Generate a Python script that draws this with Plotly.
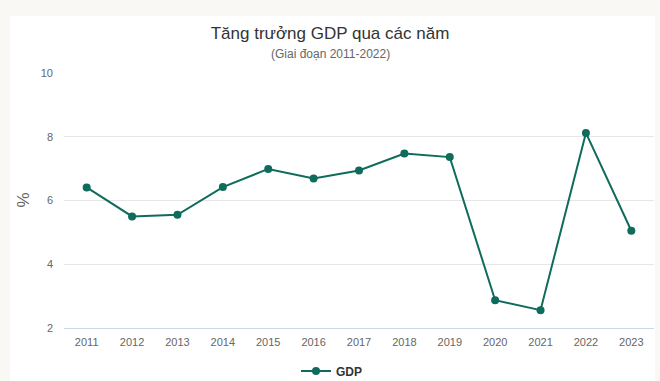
import plotly.graph_objects as go

years = ["2011", "2012", "2013", "2014", "2015", "2016", "2017", "2018",
         "2019", "2020", "2021", "2022", "2023"]
gdp = [6.41, 5.50, 5.55, 6.42, 6.99, 6.69, 6.94, 7.47, 7.36, 2.87, 2.56, 8.12, 5.05]
y_ticks = [2, 4, 6, 8, 10]

FONT = "Liberation Sans, Arial, sans-serif"
LINE = "#0f6b5c"

ML, MR, MT, MB = 64, 6, 72, 53
W, H = 660, 381
PW, PH = W - ML - MR, H - MT - MB

def px_x(p):
    return (p - ML) / PW

def px_y(p):
    return (H - MB - p) / PH

fig = go.Figure()
fig.add_trace(go.Scatter(
    x=years, y=gdp, mode="lines+markers", name="<b>GDP</b>",
    line=dict(color=LINE, width=2),
    marker=dict(color=LINE, size=8),
))

fig.update_layout(
    width=W, height=H,
    margin=dict(l=ML, r=MR, t=MT, b=MB, autoexpand=False),
    paper_bgcolor="#faf8f4",
    plot_bgcolor="rgba(0,0,0,0)",
    font=dict(family=FONT, color="#666666", size=11),
    title=dict(text="Tăng trưởng GDP qua các năm", x=0.5, xanchor="center",
               yref="container", y=1 - 33 / H, yanchor="middle",
               font=dict(size=17, color="#333333", family=FONT)),
    annotations=[dict(text="(Giai đoạn 2011-2022)", xref="paper", yref="paper",
                      x=px_x(330), y=px_y(54), xanchor="center", yanchor="middle",
                      showarrow=False, font=dict(size=12, color="#666666", family=FONT))],
    shapes=[dict(type="rect", xref="paper", yref="paper",
                 x0=px_x(10), x1=px_x(655), y0=px_y(381), y1=px_y(16),
                 fillcolor="white", line=dict(width=0), layer="below")],
    showlegend=True,
    legend=dict(orientation="h", x=px_x(296), xanchor="left", y=px_y(371), yanchor="middle",
                font=dict(size=12, color="#333333", family=FONT),
                bgcolor="rgba(0,0,0,0)"),
    xaxis=dict(type="category", range=[-0.5, len(years) - 0.5],
               showgrid=False, showline=True, linecolor="#ccd6eb", linewidth=1,
               ticks="", tickfont=dict(size=11, color="#666666"), zeroline=False,
               ticklabelstandoff=4, automargin=False),
    yaxis=dict(range=[2, 10.03], tickvals=y_ticks, showgrid=True, gridcolor="#e6e6e6",
               gridwidth=1, zeroline=False, showline=False, ticks="",
               tickfont=dict(size=11, color="#666666"), ticklabelstandoff=10,
               automargin=False,
               title=dict(text="%", font=dict(size=17, color="#666666"), standoff=6)),
)

fig.write_html("out.html", config={"displayModeBar": False},
               post_script="document.body.style.margin='0';document.body.style.overflow='hidden';")
